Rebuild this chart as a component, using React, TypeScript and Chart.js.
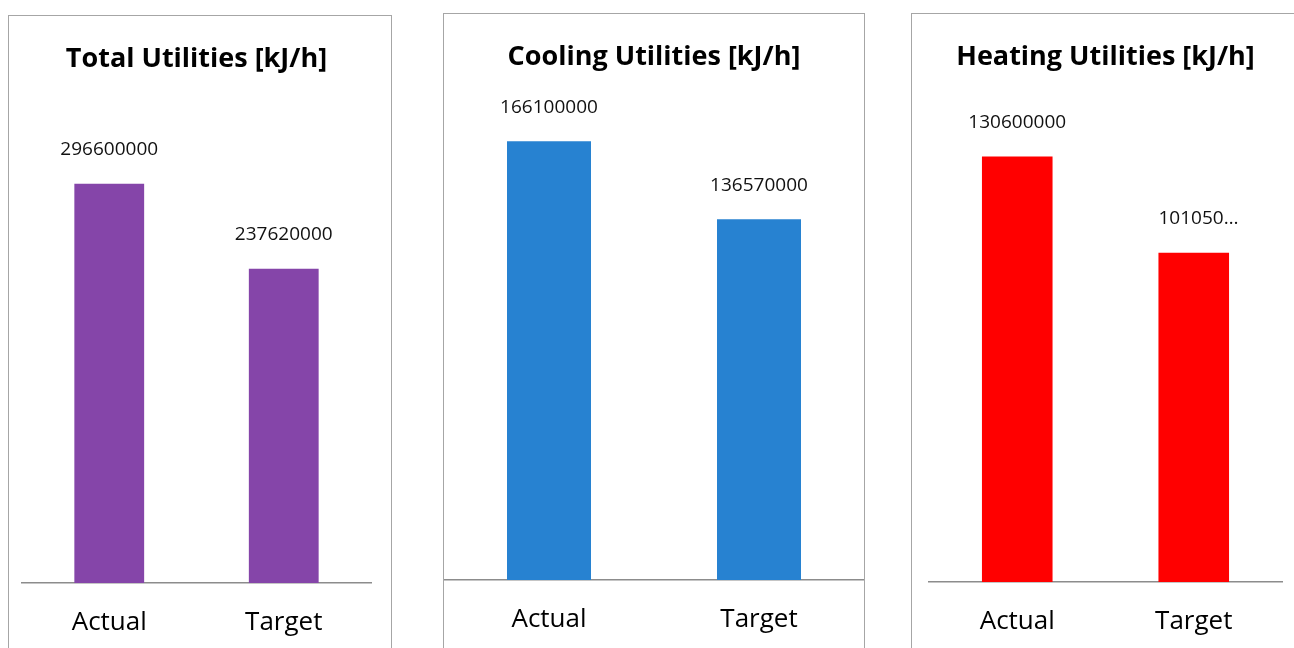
import React, { useEffect, useRef } from "react";
import { Chart, registerables } from "chart.js";

Chart.register(...registerables);

const categories = ["Actual", "Target"];

const totalValues = [296600000, 237620000];
const coolingValues = [166100000, 136570000];
const heatingValues = [130600000, 101050000];

const totalLabels = ["296600000", "237620000"];
const coolingLabels = ["166100000", "136570000"];
const heatingLabels = ["130600000", "101050…"];

const titles = ["Total Utilities [kJ/h]", "Cooling Utilities [kJ/h]", "Heating Utilities [kJ/h]"];
const colors = ["#8545A9", "#2782D1", "#FF0000"];

type PanelCfg = {
  title: string;
  values: number[];
  labels: string[];
  color: string;
  left: number;
  top: number;
  width: number;
  height: number;
  padLeft: number;
  padRight: number;
  padBottom: number;
  titleBottom: number;
  yMin: number;
  yMax: number;
};

const FONT = "'Open Sans', sans-serif";

const dataLabelPlugin = {
  id: "dataLabels",
  afterDatasetsDraw(chart: any) {
    const labels: string[] = chart.options.plugins.dataLabels.labels;
    const ctx = chart.ctx;
    const meta = chart.getDatasetMeta(0);
    ctx.save();
    ctx.font = `19px ${FONT}`;
    ctx.fillStyle = "#111";
    ctx.textBaseline = "middle";
    meta.data.forEach((el: any, i: number) => {
      const txt = labels[i];
      if (txt.endsWith("…")) {
        ctx.textAlign = "left";
        ctx.fillText(txt, el.x - el.width / 2, el.y - 34);
      } else {
        ctx.textAlign = "center";
        ctx.fillText(txt, el.x, el.y - 34);
      }
    });
    ctx.restore();
  },
};

function Panel({ cfg }: { cfg: PanelCfg }) {
  const ref = useRef<HTMLCanvasElement>(null);
  useEffect(() => {
    if (!ref.current) return;
    const chart = new Chart(ref.current, {
      type: "bar",
      data: {
        labels: categories,
        datasets: [
          {
            data: cfg.values,
            backgroundColor: cfg.color,
            barPercentage: 0.8,
            categoryPercentage: 0.5,
          },
        ],
      },
      plugins: [dataLabelPlugin],
      options: {
        responsive: false,
        animation: false,
        devicePixelRatio: 1,
        layout: {
          padding: { left: cfg.padLeft, right: cfg.padRight, top: 0, bottom: cfg.padBottom },
        },
        plugins: {
          legend: { display: false },
          tooltip: { enabled: false },
          title: {
            display: true,
            text: cfg.title,
            color: "#000",
            font: { family: FONT, size: 27, weight: "bold", lineHeight: 1.2 },
            padding: { top: 26.7, bottom: cfg.titleBottom },
          },
          dataLabels: { labels: cfg.labels },
        } as any,
        scales: {
          x: {
            grid: { display: false, drawTicks: false },
            border: { display: true, color: "#8c8c8c", width: 1.5 },
            ticks: {
              color: "#000",
              padding: 24,
              font: { family: FONT, size: 26, lineHeight: 1.2 },
            },
          },
          y: {
            display: false,
            min: cfg.yMin,
            max: cfg.yMax,
          },
        },
      },
    });
    return () => chart.destroy();
  }, [cfg]);

  return (
    <div
      style={{
        position: "absolute",
        left: cfg.left,
        top: cfg.top,
        width: cfg.width,
        height: cfg.height,
        border: "1px solid #a6a6a6",
        background: "#fff",
      }}
    >
      <canvas
        ref={ref}
        width={cfg.width}
        height={cfg.height}
        style={{ display: "block", width: cfg.width, height: cfg.height }}
      />
    </div>
  );
}

const panels: PanelCfg[] = [
  {
    title: titles[0],
    values: totalValues,
    labels: totalLabels,
    color: colors[0],
    left: 8,
    top: 15,
    width: 382,
    height: 660,
    padLeft: 13,
    padRight: 20,
    padBottom: 13.8,
    titleBottom: 31.5,
    yMin: 20000000,
    yMax: 350000000,
  },
  {
    title: titles[1],
    values: coolingValues,
    labels: coolingLabels,
    color: colors[1],
    left: 443,
    top: 13,
    width: 420,
    height: 660,
    padLeft: 0,
    padRight: 0,
    padBottom: 14.8,
    titleBottom: 31.5,
    yMin: 0,
    yMax: 180000000,
  },
  {
    title: titles[2],
    values: heatingValues,
    labels: heatingLabels,
    color: colors[2],
    left: 911,
    top: 13,
    width: 395,
    height: 660,
    padLeft: 17,
    padRight: 25,
    padBottom: 12.8,
    titleBottom: 52.8,
    yMin: 0,
    yMax: 140000000,
  },
];

export default function App() {
  return (
    <div
      style={{
        position: "fixed",
        left: 0,
        top: 0,
        width: 1294,
        height: 648,
        overflow: "hidden",
        background: "#fff",
      }}
    >
      {panels.map((p, i) => (
        <Panel key={i} cfg={p} />
      ))}
    </div>
  );
}
